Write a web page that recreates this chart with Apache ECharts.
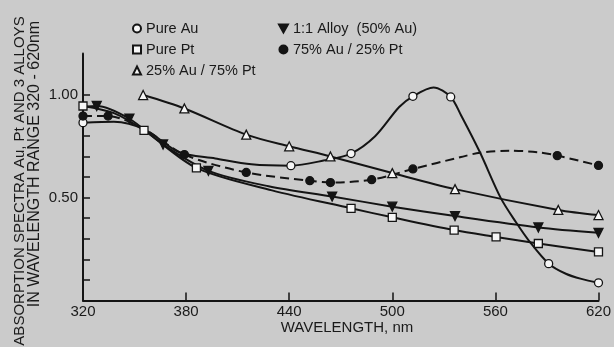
<!DOCTYPE html>
<html>
<head>
<meta charset="utf-8">
<script src="https://cdn.jsdelivr.net/npm/echarts@6/dist/echarts.min.js"></script>
<style>
html,body{margin:0;padding:0;background:#cbcbcb;}
#chart{width:614px;height:347px;}
</style>
</head>
<body>
<div id="chart"></div>
<script>
// ---- data (wavelength nm, absorbance) ----
const xTicks = [320, 380, 440, 500, 560, 620];
const yTickLabels = [0.5, 1.0];

const seriesNames = ['Pure Au', 'Pure Pt', '25% Au / 75% Pt', '1:1 Alloy  (50% Au)', '75% Au / 25% Pt'];

// measured marker points
const pureAuPoints = [[320,0.864],[441,0.655],[476,0.714],[512,0.992],[534,0.989],[591,0.179],[620,0.086]];
// additional points (no marker)
const pureAuCurve = [[338,0.868],[356,0.83],[376,0.72],[397,0.69],[418,0.662],[460,0.68],[490,0.798],[504,0.94],[524,1.035],[540,0.90],[551,0.72],[563,0.50],[572,0.38],[580,0.285],[601,0.13],[610,0.105]];

const purePtPoints = [[320,0.945],[355.5,0.827],[386,0.644],[476,0.448],[500,0.404],[536,0.342],[560.4,0.309],[585,0.277],[620,0.236]];
const purePtCurve = [[338,0.91],[430,0.535]];

const au25Points = [[355,0.998],[379,0.933],[415,0.806],[440,0.749],[464,0.70],[500,0.619],[536.5,0.541],[596.6,0.44],[620,0.415]];
const au25Curve = [];

const alloyPoints = [[328,0.945],[347,0.883],[366.6,0.758],[393,0.63],[465,0.505],[500,0.456],[536.5,0.41],[585,0.355],[620,0.329]];
const alloyCurve = [[320,0.94],[428,0.555]];

const au75Points = [[320,0.896],[334.6,0.896],[379,0.709],[415,0.622],[452,0.582],[464,0.573],[488,0.587],[512,0.639],[596,0.704],[620,0.656]];
const au75Curve = [[355,0.835],[540,0.697],[551,0.718],[568,0.728],[585,0.72]];

// ---- build ----
const INK = '#141414';
const OPEN = '#f6f6f6';
const TRI_DOWN = 'path://M0,0 L10,0 L5,9 Z';

function buildData(points, curve) {
  const all = points.map(p => ({ value: p }))
    .concat(curve.map(p => ({ value: p, symbol: 'none' })));
  all.sort((a, b) => a.value[0] - b.value[0]);
  return all;
}

function lineSeries(name, points, curve, symbol, filled, dashed, size) {
  return {
    name: name,
    type: 'line',
    data: buildData(points, curve),
    smooth: 0.3,
    symbol: symbol,
    symbolSize: size,
    showAllSymbol: true,
    clip: false,
    lineStyle: { color: INK, width: 2, type: dashed ? [9, 5] : 'solid' },
    itemStyle: { color: filled ? INK : OPEN, borderColor: INK, borderWidth: 1.3 },
    emphasis: { disabled: true },
    animation: false,
    z: 3
  };
}

const chart = echarts.init(document.getElementById('chart'), null, { renderer: 'canvas' });
const FONT = 'Liberation Sans, Arial, Helvetica, sans-serif';

const option = {
  backgroundColor: '#cbcbcb',
  animation: false,
  grid: { left: 83, right: 15.5, top: 53.5, bottom: 46.5, containLabel: false },
  xAxis: {
    type: 'value',
    min: 320, max: 620, interval: 60,
    axisLine: { show: true, lineStyle: { color: INK, width: 2 } },
    axisTick: { show: true, inside: true, length: 8, lineStyle: { color: INK, width: 1.5 } },
    axisLabel: { color: '#1a1a1a', fontSize: 15, fontFamily: FONT, margin: 4,
      customValues: xTicks, formatter: v => String(v) },
    splitLine: { show: false }
  },
  yAxis: {
    type: 'value',
    min: 0, max: 1.2, interval: 0.1,
    axisLine: { show: true, lineStyle: { color: INK, width: 2 } },
    axisTick: { show: true, inside: true, length: 7, lineStyle: { color: INK, width: 1.5 },
      customValues: [0.1, 0.2, 0.3, 0.4, 0.5, 0.6, 0.7, 0.8, 0.9, 1.0] },
    axisLabel: { color: '#1a1a1a', fontSize: 15, fontFamily: FONT, margin: 5,
      customValues: yTickLabels, formatter: v => v.toFixed(2) },
    splitLine: { show: false }
  },
  legend: [
    {
      orient: 'vertical', left: 127, top: 15, itemGap: 4,
      itemWidth: 8, itemHeight: 8,
      selectedMode: false,
      textStyle: { color: '#1a1a1a', fontSize: 14.5, fontFamily: FONT, lineHeight: 17 },
      data: [
        { name: seriesNames[0], icon: 'circle' },
        { name: seriesNames[1], icon: 'rect' },
        { name: seriesNames[2], icon: 'triangle' }
      ]
    },
    {
      orient: 'vertical', left: 273, top: 15, itemGap: 4,
      itemWidth: 9, itemHeight: 8,
      selectedMode: false,
      textStyle: { color: '#1a1a1a', fontSize: 14.5, fontFamily: FONT, lineHeight: 17 },
      data: [
        { name: seriesNames[3], icon: TRI_DOWN },
        { name: seriesNames[4], icon: 'circle' }
      ]
    }
  ],
  graphic: [
    { type: 'text', x: 347, y: 328, style: { text: 'WAVELENGTH, nm', font: '15px ' + FONT, fill: '#1a1a1a', align: 'center', verticalAlign: 'middle' } },
    { type: 'text', x: 20, y: 181, rotation: Math.PI / 2, style: { text: 'ABSORPTION SPECTRA Au, Pt AND 3 ALLOYS', font: '15px ' + FONT, fill: '#1a1a1a', align: 'center', verticalAlign: 'middle' } },
    { type: 'text', x: 35, y: 164, rotation: Math.PI / 2, style: { text: 'IN WAVELENGTH RANGE 320 - 620nm', font: '16px ' + FONT, fill: '#1a1a1a', align: 'center', verticalAlign: 'middle' } }
  ],
  series: [
    lineSeries(seriesNames[0], pureAuPoints, pureAuCurve, 'circle', false, false, 8),
    lineSeries(seriesNames[1], purePtPoints, purePtCurve, 'rect', false, false, 8),
    lineSeries(seriesNames[2], au25Points, au25Curve, 'triangle', false, false, 9),
    lineSeries(seriesNames[3], alloyPoints, alloyCurve, TRI_DOWN, true, false, 9),
    lineSeries(seriesNames[4], au75Points, au75Curve, 'circle', true, true, 8)
  ]
};
chart.setOption(option);
</script>
</body>
</html>
